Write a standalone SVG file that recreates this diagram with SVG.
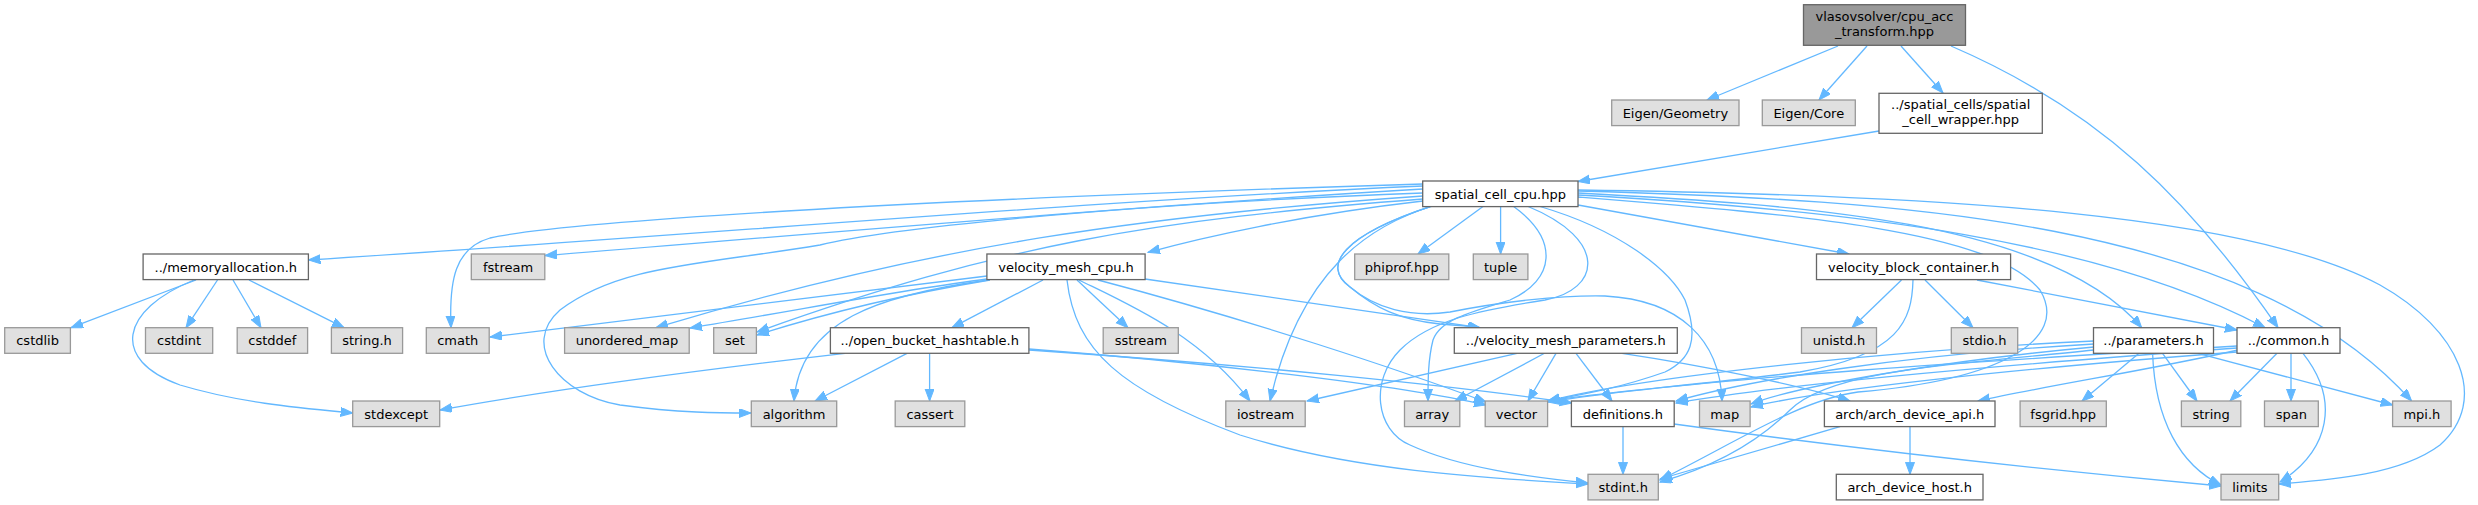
<svg xmlns="http://www.w3.org/2000/svg" width="2478" height="505" viewBox="0 0 2478 505">
<style>
.e{fill:none;stroke:#63b8ff;stroke-width:1.3;marker-end:url(#ah)}
.w{fill:#ffffff;stroke:#666666;stroke-width:1.3}
.g{fill:#e0e0e0;stroke:#999999;stroke-width:1.3}
.m{fill:#999999;stroke:#666666;stroke-width:1.3}
text{font-family:"DejaVu Sans","Liberation Sans",sans-serif;font-size:13px;fill:#000;text-anchor:middle}
</style>
<defs>
<marker id="ah" markerUnits="userSpaceOnUse" markerWidth="13" markerHeight="10" refX="12" refY="4.5" orient="auto">
<path d="M0,0 L12,4.5 L0,9 z" fill="#63b8ff" stroke="#63b8ff" stroke-width="1"/>
</marker>
</defs>
<rect width="2478" height="505" fill="#ffffff"/>
<g id="edges">
<path class="e" d="M1838,46 L1707,100"/>
<path class="e" d="M1867,46 L1819,100"/>
<path class="e" d="M1901,46 L1943,93"/>
<path class="e" d="M1951,46 C2100,110 2190,200 2278,327.7"/>
<path class="e" d="M1879,131 L1578,181.5"/>
<path class="e" d="M1423,186 C1100,200 700,235 308.4,260"/>
<path class="e" d="M1423,189 C1150,205 800,235 545,255.5"/>
<path class="e" d="M1423,184 C900,200 560,222 490,238 C455,248 449,280 451,327.7"/>
<path class="e" d="M1423,196 C1150,215 930,245 656,327.7"/>
<path class="e" d="M1423,199 C1150,220 1000,245 757,332"/>
<path class="e" d="M1423,193 C1100,205 880,230 820,245 C700,265 620,265 560,310 C520,345 560,395 620,405 C680,413 720,413 751,413"/>
<path class="e" d="M1423,201 C1300,215 1200,238 1148,252.3"/>
<path class="e" d="M1433,206 C1370,225 1300,270 1270,401"/>
<path class="e" d="M1483,206.5 L1418,254"/>
<path class="e" d="M1500.6,206.5 L1500.6,254"/>
<path class="e" d="M1430,206.7 C1345,235 1320,265 1350,287 C1375,308 1400,320 1440,324 C1455,325 1468,326 1480,327.7"/>
<path class="e" d="M1430,206.7 C1345,235 1320,265 1350,287 C1375,308 1410,318 1450,312 C1500,302 1560,295 1605,296 C1680,300 1720,340 1722,401"/>
<path class="e" d="M1513,206 C1560,240 1555,280 1510,300 C1470,312 1440,320 1433,340 C1428,360 1428,380 1428,401"/>
<path class="e" d="M1527,206 C1610,240 1600,290 1545,300 C1480,310 1430,320 1400,350 C1370,380 1375,430 1410,445 C1460,468 1530,477 1588,483"/>
<path class="e" d="M1540,206.5 C1620,230 1670,270 1685,300 C1700,340 1690,360 1665,372 C1620,388 1580,395 1548,401"/>
<path class="e" d="M1578,205 L1849,254"/>
<path class="e" d="M1578,193 C1800,205 2050,220 2141.7,327.7"/>
<path class="e" d="M1578,195 C1850,210 2100,240 2265,327.7"/>
<path class="e" d="M1578,191 C1900,200 2250,220 2411.6,401"/>
<path class="e" d="M1578,190 C1950,195 2250,215 2380,285 C2460,330 2490,400 2440,445 C2400,475 2330,480 2279,484"/>
<path class="e" d="M1578,197 C1800,215 1990,230 2040,290 C2070,340 2000,380 1858,392 C1800,400 1740,440 1660,480"/>
<path class="e" d="M987,276 L490,337"/>
<path class="e" d="M987,279 C900,290 800,310 690,328"/>
<path class="e" d="M990,280 C900,295 820,315 757,335"/>
<path class="e" d="M988,280 C880,295 800,320 794,401"/>
<path class="e" d="M1098,280 C1250,320 1400,370 1486,402"/>
<path class="e" d="M1079,280 C1130,305 1200,335 1250,401"/>
<path class="e" d="M1067,280 C1075,350 1120,390 1240,435 C1350,470 1480,478 1588,484"/>
<path class="e" d="M1077,280 L1128,327.7"/>
<path class="e" d="M1043,280 L952,327.7"/>
<path class="e" d="M1145,279 L1480,327.7"/>
<path class="e" d="M196,280 L71,327.7"/>
<path class="e" d="M217.5,280 L186,327.7"/>
<path class="e" d="M233,280 L261,327.7"/>
<path class="e" d="M249,280 L344,327.7"/>
<path class="e" d="M194,280 C120,310 110,360 180,385 C240,403 300,408 352.7,413"/>
<path class="e" d="M845,353.3 C700,370 550,390 440,410"/>
<path class="e" d="M907,353.3 L815,401"/>
<path class="e" d="M929.6,353.3 L929.6,401"/>
<path class="e" d="M1029,349 C1200,362 1400,385 1486,405"/>
<path class="e" d="M1029,350 C1250,365 1450,385 1572,403"/>
<path class="e" d="M1517,353.3 L1307,401"/>
<path class="e" d="M1544.5,353.3 L1455,401"/>
<path class="e" d="M1556,353.3 L1528,401"/>
<path class="e" d="M1576,353.3 L1612,401"/>
<path class="e" d="M1622,353.3 C1700,365 1800,385 1850,401"/>
<path class="e" d="M1901.5,280 L1852,327.7"/>
<path class="e" d="M1925,280 L1973,327.7"/>
<path class="e" d="M1977,280 L2237,330"/>
<path class="e" d="M1913,280 C1912,320 1900,355 1800,372 C1700,385 1600,392 1548,401"/>
<path class="e" d="M2139,353.3 L2082,401"/>
<path class="e" d="M2162.5,353.3 L2197,401"/>
<path class="e" d="M2152.6,353.3 C2155,420 2180,465 2221,485"/>
<path class="e" d="M2198,353.3 L2392.6,405"/>
<path class="e" d="M2094,341 C1900,350 1650,375 1548,401"/>
<path class="e" d="M2094,344 C1900,355 1750,380 1676,401"/>
<path class="e" d="M2094,347 C1950,360 1800,385 1751,404"/>
<path class="e" d="M2094,350 C1950,365 1830,370 1790,410 C1760,440 1720,465 1660,482"/>
<path class="e" d="M2277,353.3 L2230,401"/>
<path class="e" d="M2291,353.3 L2291,401"/>
<path class="e" d="M2303,353.3 C2340,400 2330,450 2280,482"/>
<path class="e" d="M2238,350 C2150,370 2050,385 1978,401"/>
<path class="e" d="M2237,346 C2000,360 1700,378 1548,402"/>
<path class="e" d="M2237,348 C2000,365 1780,385 1676,403"/>
<path class="e" d="M2237,352 C2000,370 1820,390 1751,407"/>
<path class="e" d="M1623,426.7 L1623,474.3"/>
<path class="e" d="M1674,424 C1900,455 2100,475 2221,486"/>
<path class="e" d="M1840,426.7 L1660,479"/>
<path class="e" d="M1910,426.7 L1910,474.3"/>
</g>
<g id="n_main"><rect class="m" x="1803.5" y="4.7" width="162" height="40.6"/><text x="1884.5" y="20.5">vlasovsolver/cpu_acc</text><text x="1884.5" y="35.5">_transform.hpp</text></g>
<g id="n_eigen_geometry"><rect class="g" x="1611.7" y="100" width="127.3" height="25.6"/><text x="1675.4" y="117.5">Eigen/Geometry</text></g>
<g id="n_eigen_core"><rect class="g" x="1762.3" y="100" width="93" height="25.6"/><text x="1808.8" y="117.5">Eigen/Core</text></g>
<g id="n_spatial_cell_wrapper"><rect class="w" x="1879" y="93.3" width="163.3" height="40"/><text x="1960.7" y="109">../spatial_cells/spatial</text><text x="1960.7" y="124">_cell_wrapper.hpp</text></g>
<g id="n_spatial_cell_cpu"><rect class="w" x="1422.7" y="181" width="155.3" height="25.6"/><text x="1500.4" y="198.5">spatial_cell_cpu.hpp</text></g>
<g id="n_memoryallocation"><rect class="w" x="143.1" y="254" width="165.3" height="25.6"/><text x="225.8" y="271.5">../memoryallocation.h</text></g>
<g id="n_fstream"><rect class="g" x="471.3" y="254" width="73.5" height="25.6"/><text x="508.1" y="271.5">fstream</text></g>
<g id="n_velocity_mesh_cpu"><rect class="w" x="986.9" y="254" width="158.2" height="25.6"/><text x="1066" y="271.5">velocity_mesh_cpu.h</text></g>
<g id="n_phiprof"><rect class="g" x="1354.7" y="254" width="94.1" height="25.6"/><text x="1401.8" y="271.5">phiprof.hpp</text></g>
<g id="n_tuple"><rect class="g" x="1473.3" y="254" width="54.6" height="25.6"/><text x="1500.6" y="271.5">tuple</text></g>
<g id="n_velocity_block_container"><rect class="w" x="1816.5" y="254" width="194.1" height="25.6"/><text x="1913.6" y="271.5">velocity_block_container.h</text></g>
<g id="n_cstdlib"><rect class="g" x="4.7" y="327.7" width="65.7" height="25.6"/><text x="37.6" y="345.2">cstdlib</text></g>
<g id="n_cstdint"><rect class="g" x="145.5" y="327.7" width="67.2" height="25.6"/><text x="179.1" y="345.2">cstdint</text></g>
<g id="n_cstddef"><rect class="g" x="237.2" y="327.7" width="70.4" height="25.6"/><text x="272.4" y="345.2">cstddef</text></g>
<g id="n_string_h"><rect class="g" x="331.4" y="327.7" width="71.2" height="25.6"/><text x="367" y="345.2">string.h</text></g>
<g id="n_cmath"><rect class="g" x="426.3" y="327.7" width="62.9" height="25.6"/><text x="457.7" y="345.2">cmath</text></g>
<g id="n_unordered_map"><rect class="g" x="564.6" y="327.7" width="124.6" height="25.6"/><text x="626.9" y="345.2">unordered_map</text></g>
<g id="n_set"><rect class="g" x="713.7" y="327.7" width="42.7" height="25.6"/><text x="735" y="345.2">set</text></g>
<g id="n_open_bucket_hashtable"><rect class="w" x="830.4" y="327.7" width="198.5" height="25.6"/><text x="929.7" y="345.2">../open_bucket_hashtable.h</text></g>
<g id="n_sstream"><rect class="g" x="1103.2" y="327.7" width="75.1" height="25.6"/><text x="1140.8" y="345.2">sstream</text></g>
<g id="n_velocity_mesh_parameters"><rect class="w" x="1454.3" y="327.7" width="223" height="25.6"/><text x="1565.8" y="345.2">../velocity_mesh_parameters.h</text></g>
<g id="n_unistd"><rect class="g" x="1801.5" y="327.7" width="75" height="25.6"/><text x="1839" y="345.2">unistd.h</text></g>
<g id="n_stdio"><rect class="g" x="1951.3" y="327.7" width="66.4" height="25.6"/><text x="1984.5" y="345.2">stdio.h</text></g>
<g id="n_parameters"><rect class="w" x="2093.5" y="327.7" width="120" height="25.6"/><text x="2153.5" y="345.2">../parameters.h</text></g>
<g id="n_common"><rect class="w" x="2237" y="327.7" width="103" height="25.6"/><text x="2288.5" y="345.2">../common.h</text></g>
<g id="n_stdexcept"><rect class="g" x="352.7" y="401" width="87" height="25.6"/><text x="396.2" y="418.5">stdexcept</text></g>
<g id="n_algorithm"><rect class="g" x="751.3" y="401" width="85.4" height="25.6"/><text x="794" y="418.5">algorithm</text></g>
<g id="n_cassert"><rect class="g" x="895.2" y="401" width="69.6" height="25.6"/><text x="930" y="418.5">cassert</text></g>
<g id="n_iostream"><rect class="g" x="1225.8" y="401" width="79.4" height="25.6"/><text x="1265.5" y="418.5">iostream</text></g>
<g id="n_array"><rect class="g" x="1404.5" y="401" width="55.3" height="25.6"/><text x="1432.2" y="418.5">array</text></g>
<g id="n_vector"><rect class="g" x="1485.2" y="401" width="62.4" height="25.6"/><text x="1516.4" y="418.5">vector</text></g>
<g id="n_definitions"><rect class="w" x="1571.4" y="401" width="102.8" height="25.6"/><text x="1622.8" y="418.5">definitions.h</text></g>
<g id="n_map"><rect class="g" x="1699.5" y="401" width="50.6" height="25.6"/><text x="1724.8" y="418.5">map</text></g>
<g id="n_arch_device_api"><rect class="w" x="1824.4" y="401" width="170.6" height="25.6"/><text x="1909.7" y="418.5">arch/arch_device_api.h</text></g>
<g id="n_fsgrid"><rect class="g" x="2020.1" y="401" width="86.2" height="25.6"/><text x="2063.2" y="418.5">fsgrid.hpp</text></g>
<g id="n_string"><rect class="g" x="2181.4" y="401" width="59.4" height="25.6"/><text x="2211.1" y="418.5">string</text></g>
<g id="n_span"><rect class="g" x="2264.5" y="401" width="53.8" height="25.6"/><text x="2291.4" y="418.5">span</text></g>
<g id="n_mpi"><rect class="g" x="2392.6" y="401" width="58.5" height="25.6"/><text x="2421.9" y="418.5">mpi.h</text></g>
<g id="n_stdint"><rect class="g" x="1588" y="474.3" width="70.3" height="25.6"/><text x="1623.2" y="491.8">stdint.h</text></g>
<g id="n_arch_device_host"><rect class="w" x="1836.3" y="474.3" width="146.7" height="25.6"/><text x="1909.7" y="491.8">arch_device_host.h</text></g>
<g id="n_limits"><rect class="g" x="2221" y="474.3" width="57.7" height="25.6"/><text x="2249.9" y="491.8">limits</text></g>
</svg>
